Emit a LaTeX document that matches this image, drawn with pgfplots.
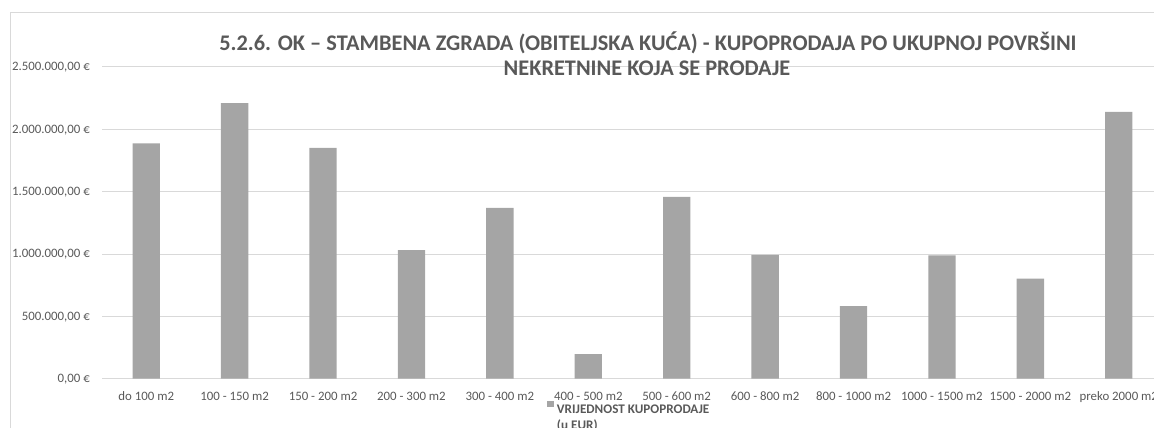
\documentclass[border=0pt]{standalone}
\usepackage{fontspec}
\setmainfont{Carlito}
\usepackage{pgfplots}
\pgfplotsset{compat=1.18}
\definecolor{barc}{HTML}{A5A5A5}
\definecolor{gridc}{HTML}{D9D9D9}
\definecolor{txtc}{HTML}{595959}
\begin{document}
\begin{tikzpicture}
\draw[gridc, line width=0.75bp] (10bp,-20bp) -- (10bp,416bp) -- (1200bp,416bp);
\begin{axis}[
  at={(102bp,49.3bp)}, anchor=south west,
  scale only axis, width=1061bp, height=312bp,
  xmin=-0.5, xmax=11.5, ymin=0, ymax=2500000,
  xtick={0,...,11},
  xticklabels={do 100 m2, 100 - 150 m2, 150 - 200 m2, 200 - 300 m2, 300 - 400 m2, 400 - 500 m2, 500 - 600 m2, 600 - 800 m2, 800 - 1000 m2, 1000 - 1500 m2, 1500 - 2000 m2, preko 2000 m2},
  ytick={0,500000,1000000,1500000,2000000,2500000},
  yticklabels={{0,00 €},{500.000,00 €},{1.000.000,00 €},{1.500.000,00 €},{2.000.000,00 €},{2.500.000,00 €}},
  scaled y ticks=false,
  axis line style={draw=none},
  major tick length=0pt,
  ymajorgrids, grid style={gridc, line width=0.75bp},
  ticklabel style={font=\fontsize{12.9}{15}\selectfont, text=txtc, inner sep=0pt},
  yticklabel style={anchor=base east, xshift=-12bp, yshift=-4.1bp},
  xticklabel style={anchor=base, yshift=-21.3bp},
  ybar, bar width=27.3bp,
  legend style={draw=none, fill=none, at={(0.4191,-0.0706)}, anchor=north west,
    inner sep=0pt, outer sep=0pt, font=\fontsize{13.2}{16.5}\selectfont\bfseries,
    text=txtc, nodes={inner sep=0pt}},
  legend cell align=left,
  legend image code/.code={\fill[#1] (0bp,0.7bp) rectangle (7.3bp,7.3bp); \path (10.3bp,0bp);},
]
\addplot[fill=barc, draw=none] coordinates {
  (0,1886000) (1,2209000) (2,1849000) (3,1031000) (4,1368000) (5,196000)
  (6,1456000) (7,993000) (8,582000) (9,989000) (10,801000) (11,2139000)
};
\addlegendentry{\begin{tabular}[t]{@{}l@{}}VRIJEDNOST KUPOPRODAJE\\(u EUR)\end{tabular}}
\end{axis}
\node[anchor=base, text=txtc, font=\fontsize{22.4}{26}\selectfont\bfseries, inner sep=0pt] at (648bp,377.3bp) {5.2.6. OK – STAMBENA ZGRADA (OBITELJSKA KUĆA) - KUPOPRODAJA PO UKUPNOJ POVRŠINI};
\node[anchor=base, text=txtc, font=\fontsize{22.4}{26}\selectfont\bfseries, inner sep=0pt] at (647bp,352.3bp) {NEKRETNINE KOJA SE PRODAJE};
\pgfresetboundingbox
\path[use as bounding box] (0,0) rectangle (1154bp,428bp);
\end{tikzpicture}
\end{document}
